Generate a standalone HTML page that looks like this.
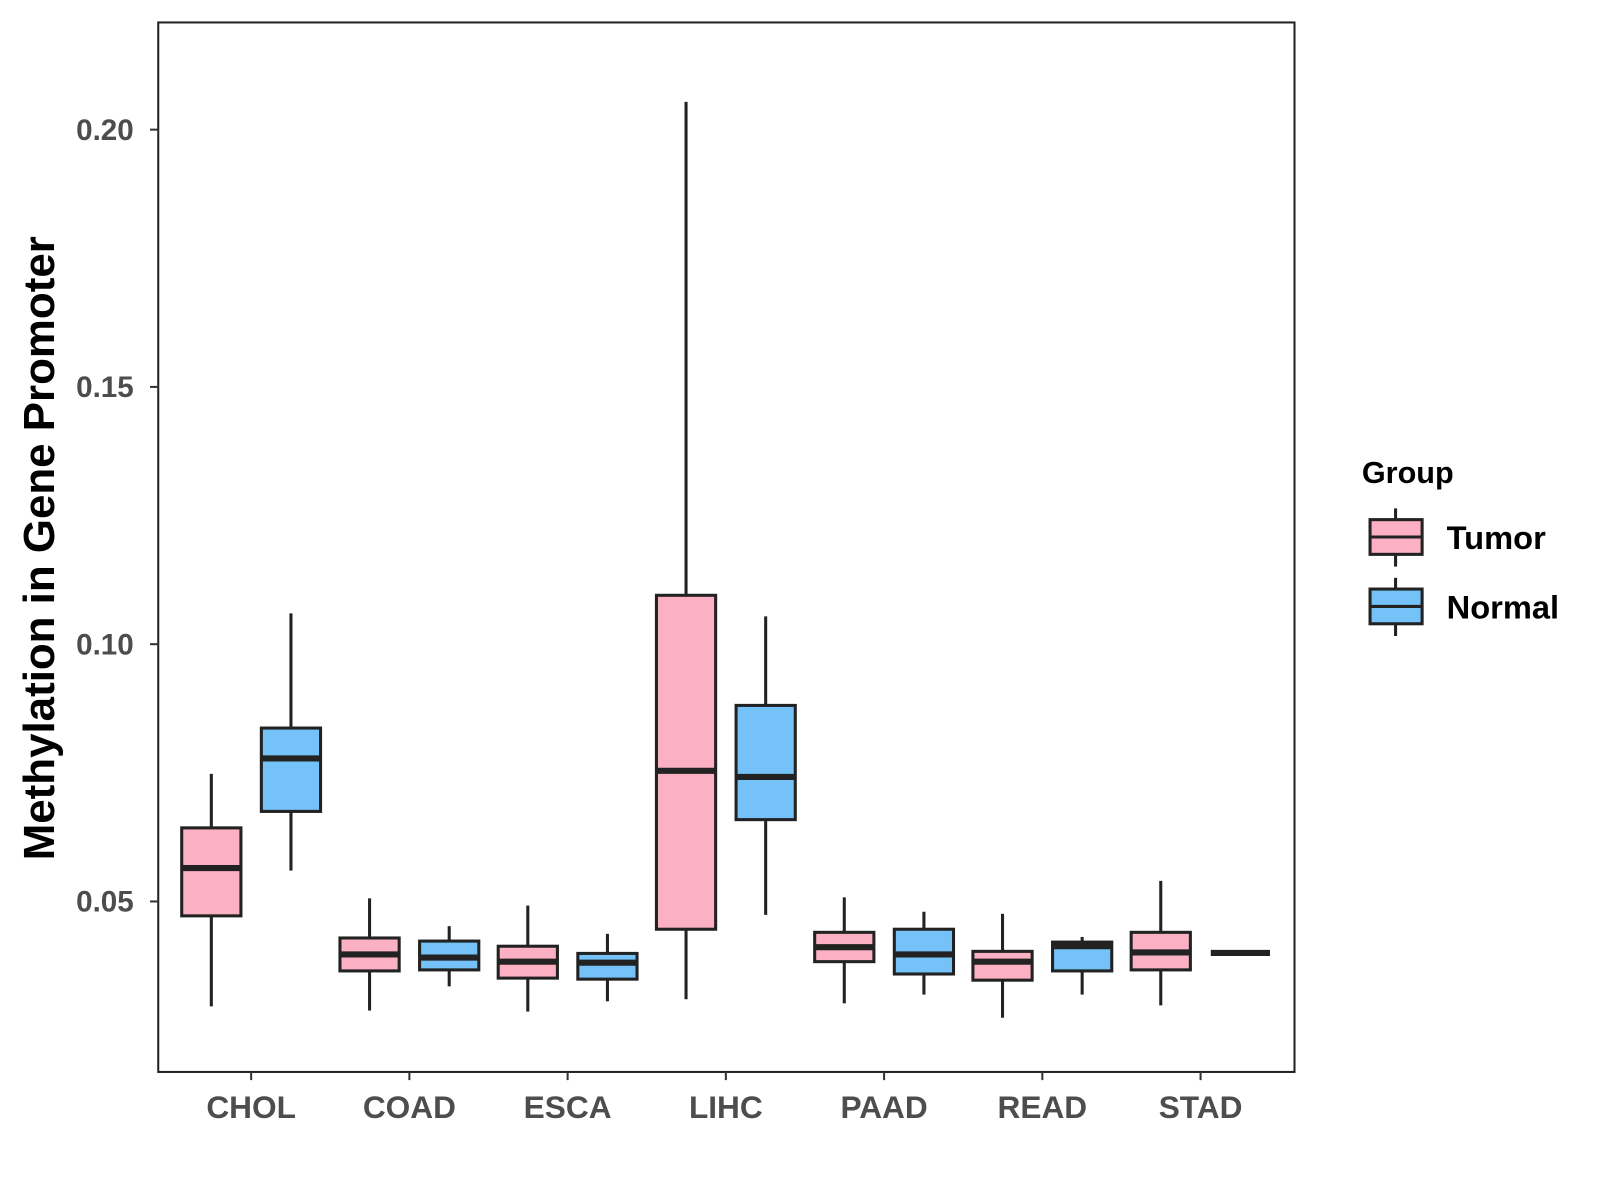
<!DOCTYPE html>
<html><head><meta charset="utf-8"><style>body{margin:0;background:#fff}svg{display:block}</style></head>
<body>
<svg id="chart" width="1600" height="1200" viewBox="0 0 1600 1200" xmlns="http://www.w3.org/2000/svg" font-family="Liberation Sans, Arial, sans-serif">
<rect x="0" y="0" width="1600" height="1200" fill="#fff"/>
<g transform="scale(1.0209)">
<g id="plot"></g>
<text transform="translate(53,537) rotate(-90)" text-anchor="middle" font-size="43" font-weight="bold" fill="#000">Methylation in Gene Promoter</text>
<g>
<text x="1334" y="473" font-size="30" font-weight="bold" fill="#000">Group</text>
<g>
<line x1="1367" y1="498" x2="1367" y2="555" stroke="#222" stroke-width="3"/>
<rect x="1342" y="509" width="51" height="34" fill="#FBB1C3" stroke="#222" stroke-width="3"/>
<line x1="1342" y1="526" x2="1393" y2="526" stroke="#222" stroke-width="3"/>
<text x="1417" y="538" font-size="32" font-weight="bold" fill="#000">Tumor</text>
</g>
<g>
<line x1="1367" y1="566" x2="1367" y2="623" stroke="#222" stroke-width="3"/>
<rect x="1342" y="577" width="51" height="34" fill="#74C2F8" stroke="#222" stroke-width="3"/>
<line x1="1342" y1="594" x2="1393" y2="594" stroke="#222" stroke-width="3"/>
<text x="1417" y="606" font-size="32" font-weight="bold" fill="#000">Normal</text>
</g>
</g>
</g>
</svg>
<script>
const categories = ["CHOL","COAD","ESCA","LIHC","PAAD","READ","STAD"];
// [whiskerLow, q1, median, q3, whiskerHigh]
const tumorStats = [
 [0.0296,0.0472,0.0565,0.0643,0.0748],
 [0.0288,0.0365,0.0397,0.0429,0.0506],
 [0.0286,0.0351,0.0383,0.0413,0.0492],
 [0.0310,0.0446,0.0754,0.1095,0.2054],
 [0.0302,0.0383,0.0411,0.0440,0.0508],
 [0.0274,0.0347,0.0383,0.0403,0.0476],
 [0.0298,0.0367,0.0401,0.0440,0.0540]
];
const normalStats = [
 [0.0560,0.0675,0.0778,0.0837,0.1060],
 [0.0335,0.0367,0.0391,0.0423,0.0452],
 [0.0306,0.0349,0.0381,0.0399,0.0437],
 [0.0474,0.0659,0.0742,0.0881,0.1054],
 [0.0319,0.0359,0.0397,0.0446,0.0480],
 [0.0319,0.0365,0.0413,0.0421,0.0431],
 [0.0400,0.0400,0.0400,0.0400,0.0400]
];
const yTicks = [0.05,0.10,0.15,0.20];
const yTickLabels = ["0.05","0.10","0.15","0.20"];

const NS="http://www.w3.org/2000/svg";
const L=155,R=1268,T=22,B=1050;
const yMin=0.05-(B-883)/5040, yMax=0.05+(883-T)/5040;
function yScale(v){return B-(v-yMin)/(yMax-yMin)*(B-T);}
function xScale(i){return L+91+i*155;}
const plot=document.getElementById('plot');
function mk(tag,attrs,parent){const e=document.createElementNS(NS,tag);for(const k in attrs)e.setAttribute(k,attrs[k]);(parent||plot).appendChild(e);return e;}

const frame=mk('rect',{x:L,y:T,width:R-L,height:B-T,fill:'none',stroke:'#222','stroke-width':2});



yTicks.forEach((t,i)=>{
 const y=yScale(t);
 const tk=mk('line',{x1:L-8,x2:L,y1:y,y2:y,stroke:'#333','stroke-width':2});
 
 
 const tx=mk('text',{x:L-24,y:y+10,'text-anchor':'end','font-size':29,'font-weight':'bold',fill:'#4d4d4d'});
 tx.textContent=yTickLabels[i];
 
 
});
categories.forEach((c,i)=>{
 const x=xScale(i);
 const tk=mk('line',{x1:x,x2:x,y1:B,y2:B+8,stroke:'#333','stroke-width':2});
 
 
 const tx=mk('text',{x:x,y:B+45,'text-anchor':'middle','font-size':31,'font-weight':'bold',fill:'#4d4d4d'});
 tx.textContent=c;
 
 
});
function drawBox(s,cx,fill,name){
 const g=mk('g',{});
 
 
 const w=58;
 mk('line',{x1:cx,x2:cx,y1:yScale(s[4]),y2:yScale(s[3]),stroke:'#222','stroke-width':3},g);
 mk('line',{x1:cx,x2:cx,y1:yScale(s[1]),y2:yScale(s[0]),stroke:'#222','stroke-width':3},g);
 mk('rect',{x:cx-w/2,y:yScale(s[3]),width:w,height:Math.max(0,yScale(s[1])-yScale(s[3])),fill:fill,stroke:'#222','stroke-width':3},g);
 mk('line',{x1:cx-w/2,x2:cx+w/2,y1:yScale(s[2]),y2:yScale(s[2]),stroke:'#222','stroke-width':6},g);
}
categories.forEach((c,i)=>{
 drawBox(tumorStats[i],xScale(i)-39,'#FBB1C3','box-'+c.toLowerCase()+'-tumor');
 drawBox(normalStats[i],xScale(i)+39,'#74C2F8','box-'+c.toLowerCase()+'-normal');
});
</script>
</body></html>
